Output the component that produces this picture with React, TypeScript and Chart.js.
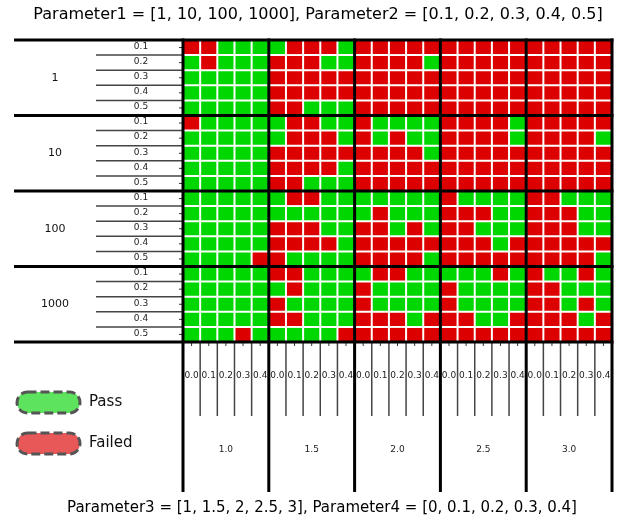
import React, { useEffect, useRef } from 'react';
import { Chart, registerables } from 'chart.js';

Chart.register(...registerables);

// ---- data ----
const param1Labels = ['1', '10', '100', '1000'];
const param2Labels = ['0.1', '0.2', '0.3', '0.4', '0.5'];
const param3Labels = ['1.0', '1.5', '2.0', '2.5', '3.0'];
const param4Labels = ['0.0', '0.1', '0.2', '0.3', '0.4'];
const topTitle = 'Parameter1 = [1, 10, 100, 1000], Parameter2 = [0.1, 0.2, 0.3, 0.4, 0.5]';
const bottomTitle = 'Parameter3 = [1, 1.5, 2, 2.5, 3], Parameter4 = [0, 0.1, 0.2, 0.3, 0.4]';
const legendLabels = ['Pass', 'Failed'];

// G = pass, R = failed. One string per Parameter2 row; groups of five = Parameter3 blocks, each over Parameter4
const resultsP1_1 = [
  'RRGGG GRRRG RRRRR RRRRR RRRRR',
  'GRGGG RRRGG RRRRG RRRRR RRRRR',
  'GGGGG RRRRR RRRRR RRRRR RRRRR',
  'GGGGG RRRRR RRRRR RRRRR RRRRR',
  'GGGGG RRGGG RRRRR RRRRR RRRRR',
];
const resultsP1_10 = [
  'RGGGG GRRGG RGGGG RRRRG RRRRR',
  'GGGGG GRRRG RGRGG RRRRG RRRRG',
  'GGGGG RRRRR RRRRG RRRRR RRRRR',
  'GGGGG RRRRG RRRRR RRRRR RRRRR',
  'GGGGG RRGGG RRRRR RRRRR RRRRR',
];
const resultsP1_100 = [
  'GGGGG GRRGG GGGGG RGGGG RRGGG',
  'GGGGG GGGGG GRGGG RRRGG RRRGG',
  'GGGGG RRRGG RRGRG RRGGG RRRGG',
  'GGGGG RRRRG RRRRR RRRGR RRRRR',
  'GGGGR RGGGG RRRRG RRRRR RRRRG',
];
const resultsP1_1000 = [
  'GGGGG RRGGG GRRGG GGGRG RGGRG',
  'GGGGG GRGGG RGGGG RGGGG RRGGG',
  'GGGGG RGGGG RGGGG RGGGG RRGRG',
  'GGGGG RRGGG RRRGR RRGGR RRRGR',
  'GGGRG GGGGR RRRRR RRRRR RRRRR',
];

const PASS = '#00d600';
const FAIL = '#dd0000';
const FONT = '"DejaVu Sans", sans-serif';

export default function App() {
  const ref = useRef<HTMLCanvasElement | null>(null);

  useEffect(() => {
    const canvas = ref.current;
    if (!canvas) return;
    const blocks = [resultsP1_1, resultsP1_10, resultsP1_100, resultsP1_1000];
    const rows: string[] = [];
    blocks.forEach((b) => b.forEach((r) => rows.push(r.replace(/ /g, ''))));

    const labels: string[] = [];
    param3Labels.forEach((p3) => param4Labels.forEach((p4) => labels.push(p3 + ' / ' + p4)));

    const datasets = rows.map((row, i) => ({
      label: param1Labels[Math.floor(i / 5)] + ' / ' + param2Labels[i % 5],
      data: row.split('').map(() => 1),
      backgroundColor: row.split('').map((c) => (c === 'G' ? PASS : FAIL)),
      borderColor: '#ffffff',
      borderWidth: 1,
      borderSkipped: false as const,
      inflateAmount: 0,
      barPercentage: 1,
      categoryPercentage: 1,
      stack: 'grid',
    }));

    const decor = {
      id: 'decor',
      afterDraw(chart: any) {
        const ctx = chart.ctx as CanvasRenderingContext2D;
        const xs = chart.scales.x;
        const ys = chart.scales.y;
        const ca = chart.chartArea;
        const n = labels.length;
        const colEdge = (j: number) => {
          if (j <= 0) return ca.left;
          if (j >= n) return ca.right;
          return (xs.getPixelForValue(j - 1) + xs.getPixelForValue(j)) / 2;
        };
        const rowEdge = (i: number) => ys.getPixelForValue(i);
        ctx.save();

        // left: thin separators between Parameter2 rows
        ctx.strokeStyle = '#444';
        ctx.lineWidth = 1.5;
        for (let b = 0; b < 4; b++) {
          for (let k = 1; k < 5; k++) {
            const y = rowEdge(b * 5 + k);
            ctx.beginPath();
            ctx.moveTo(96, y);
            ctx.lineTo(ca.left, y);
            ctx.stroke();
          }
        }
        // small tick marks
        ctx.strokeStyle = '#333';
        ctx.lineWidth = 1;
        for (let i = 0; i < rows.length; i++) {
          const y = ys.getPixelForValue(i + 0.5);
          ctx.beginPath();
          ctx.moveTo(ca.left - 4, y);
          ctx.lineTo(ca.left, y);
          ctx.stroke();
        }
        for (let j = 0; j < n; j++) {
          const x = xs.getPixelForValue(j);
          ctx.beginPath();
          ctx.moveTo(x, ca.bottom);
          ctx.lineTo(x, ca.bottom + 4);
          ctx.stroke();
        }
        // Parameter2 labels
        ctx.fillStyle = '#222';
        ctx.textAlign = 'center';
        ctx.textBaseline = 'middle';
        ctx.font = '9px ' + FONT;
        for (let i = 0; i < rows.length; i++) {
          ctx.fillText(param2Labels[i % 5], 141, ys.getPixelForValue(i + 0.5) - 1);
        }
        // Parameter1 labels
        ctx.fillStyle = '#111';
        ctx.font = '11px ' + FONT;
        for (let b = 0; b < 4; b++) {
          ctx.fillText(param1Labels[b], 55, (rowEdge(b * 5) + rowEdge(b * 5 + 5)) / 2);
        }
        // bottom: thin separators between Parameter4 columns
        ctx.strokeStyle = '#444';
        ctx.lineWidth = 1.5;
        for (let b = 0; b < 5; b++) {
          for (let k = 1; k < 5; k++) {
            const x = colEdge(b * 5 + k);
            ctx.beginPath();
            ctx.moveTo(x, ca.bottom);
            ctx.lineTo(x, 416);
            ctx.stroke();
          }
        }
        // Parameter4 labels
        ctx.fillStyle = '#222';
        ctx.font = '9px ' + FONT;
        for (let j = 0; j < n; j++) {
          ctx.fillText(param4Labels[j % 5], xs.getPixelForValue(j), 376);
        }
        // Parameter3 labels
        for (let b = 0; b < 5; b++) {
          ctx.fillText(param3Labels[b], (colEdge(b * 5) + colEdge(b * 5 + 5)) / 2, 450);
        }
        // thick block borders
        ctx.strokeStyle = '#000';
        ctx.lineWidth = 3;
        for (let b = 0; b <= 4; b++) {
          const y = rowEdge(b * 5);
          ctx.beginPath();
          ctx.moveTo(14, y);
          ctx.lineTo(ca.right + 1.5, y);
          ctx.stroke();
        }
        for (let b = 0; b <= 5; b++) {
          const x = colEdge(b * 5);
          ctx.beginPath();
          ctx.moveTo(x, ca.top - 1.5);
          ctx.lineTo(x, 492);
          ctx.stroke();
        }
        // titles
        ctx.fillStyle = '#000';
        ctx.font = '16px ' + FONT;
        ctx.fillText(topTitle, 318, 15);
        ctx.font = '15px ' + FONT;
        ctx.fillText(bottomTitle, 322, 508);

        // legend
        const items = [
          { label: legendLabels[0], fill: '#5de35d', y: 392 },
          { label: legendLabels[1], fill: '#e85858', y: 433 },
        ];
        items.forEach((it) => {
          const x0 = 17, w = 63, h = 21, r = 10.5;
          ctx.beginPath();
          ctx.roundRect(x0, it.y, w, h, r);
          ctx.fillStyle = it.fill;
          ctx.fill();
          ctx.setLineDash([9, 4]);
          ctx.strokeStyle = '#555';
          ctx.lineWidth = 3;
          ctx.stroke();
          ctx.setLineDash([]);
          ctx.fillStyle = '#111';
          ctx.font = '15px ' + FONT;
          ctx.textAlign = 'left';
          ctx.fillText(it.label, 89, it.y + h / 2);
          ctx.textAlign = 'center';
        });
        ctx.restore();
      },
    };

    const chart = new Chart(canvas, {
      type: 'bar',
      data: { labels, datasets },
      options: {
        responsive: false,
        animation: false,
        devicePixelRatio: 1,
        layout: { padding: { left: 183, right: 12, top: 40, bottom: 178 } },
        scales: {
          x: { display: false, stacked: true },
          y: { display: false, stacked: true, min: 0, max: 20, reverse: true },
        },
        plugins: { legend: { display: false }, tooltip: { enabled: false } },
      },
      plugins: [decor],
    } as any);
    return () => chart.destroy();
  }, []);

  return (
    <div style={{ position: 'fixed', left: 0, top: 0, width: 624, height: 520, background: '#fff' }}>
      <canvas ref={ref} width={624} height={520} />
    </div>
  );
}
